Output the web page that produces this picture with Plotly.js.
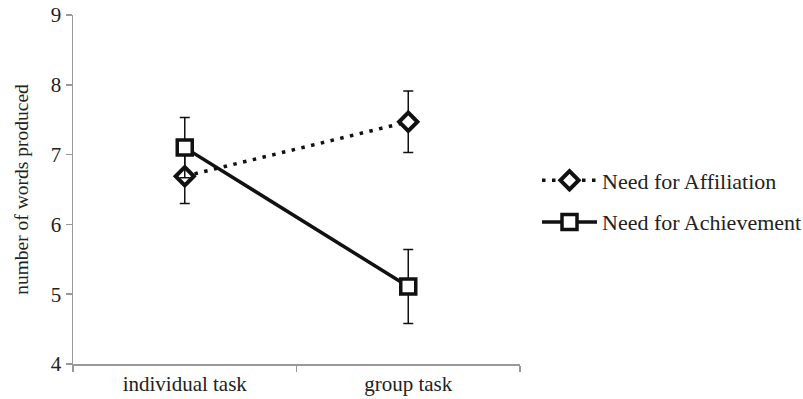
<!DOCTYPE html>
<html>
<head>
<meta charset="utf-8">
<script src="https://cdn.plot.ly/plotly-3.0.1.min.js"></script>
<style>html,body{margin:0;padding:0;background:#fff;}#chart{width:803px;height:399px;}</style>
</head>
<body>
<div id="chart"></div>
<script>
const categories = ["individual task", "group task"];
const affiliationValues = [6.69, 7.47];
const affiliationErrors = [0.39, 0.44];
const achievementValues = [7.10, 5.11];
const achievementErrors = [0.43, 0.53];
const yTickValues = [4, 5, 6, 7, 8, 9];

const fam = "'Liberation Serif', 'Times New Roman', serif";
const tickFont = {family: fam, size: 21, color: "#222"};
const titleFont = {family: fam, size: 19.5, color: "#222"};
const legendFont = {family: fam, size: 22, color: "#222"};

const traces = [
  {
    x: categories, y: affiliationValues, name: "Need for Affiliation",
    type: "scatter", mode: "lines+markers", legendgroup: "a",
    line: {color: "#111", width: 3.5, dash: "3.5px,6.5px"},
    marker: {symbol: "diamond", size: 14, color: "#fff", line: {color: "#111", width: 4}},
    error_y: {type: "data", array: affiliationErrors, visible: true, color: "#111", thickness: 1.5, width: 5}
  },
  {
    x: categories, y: achievementValues, name: "Need for Achievement",
    type: "scatter", mode: "lines+markers", legendgroup: "b",
    line: {color: "#111", width: 3.5},
    marker: {symbol: "square", size: 15, color: "#fff", line: {color: "#111", width: 3.5}},
    error_y: {type: "data", array: achievementErrors, visible: true, color: "#111", thickness: 1.5, width: 5}
  }
];

const layout = {
  width: 803, height: 399,
  margin: {l: 73, r: 283, t: 15, b: 35},
  paper_bgcolor: "#fff", plot_bgcolor: "#fff",
  font: tickFont,
  showlegend: true,
  legend: {xref: "container", yref: "container", x: 537 / 803, xanchor: "left", y: 0.495, yanchor: "middle",
           font: legendFont, tracegroupgap: 10, itemwidth: 55, bgcolor: "rgba(0,0,0,0)"},
  xaxis: {
    type: "category", range: [-0.5, 1.5], showgrid: false, zeroline: false,
    showline: true, linecolor: "#999", linewidth: 1.5,
    ticks: "outside", tickson: "boundaries", ticklen: 6, tickcolor: "#999", tickwidth: 1.5,
    tickfont: tickFont
  },
  yaxis: {
    range: [4, 9], tickvals: yTickValues, showgrid: false, zeroline: false,
    showline: true, linecolor: "#999", linewidth: 1.5,
    ticks: "outside", ticklen: 6, tickcolor: "#999", tickwidth: 1.5,
    tickfont: tickFont,
    title: {text: "number of words produced", font: titleFont, standoff: 17}
  }
};

Plotly.newPlot("chart", traces, layout, {displayModeBar: false, staticPlot: true});
</script>
</body>
</html>
